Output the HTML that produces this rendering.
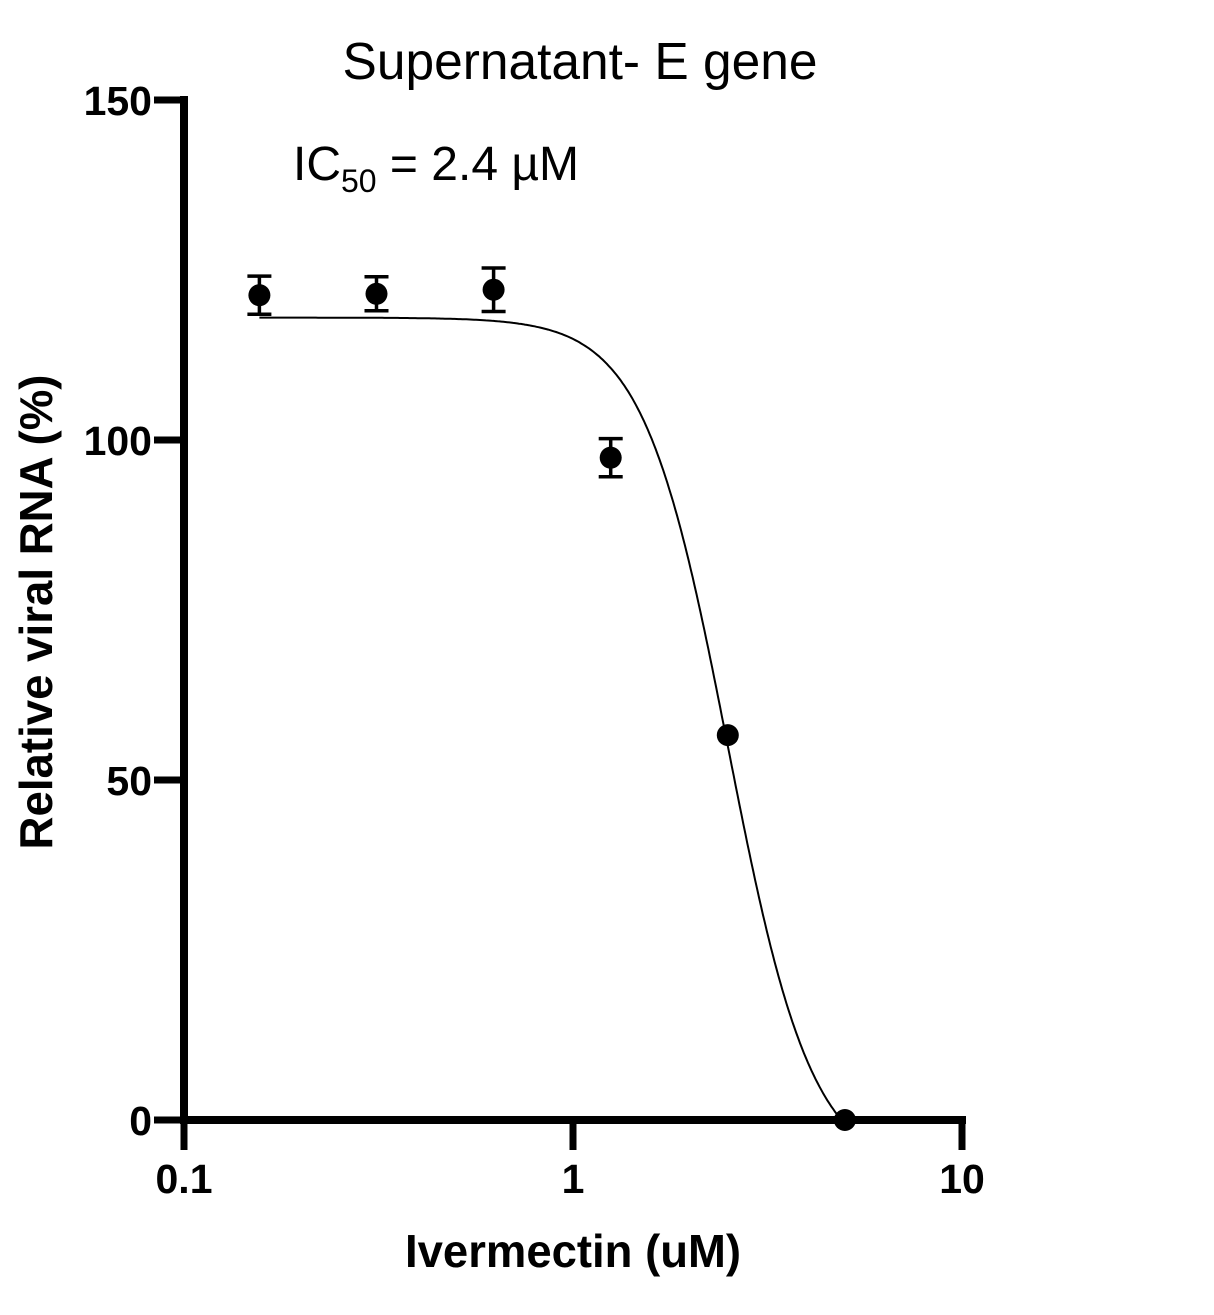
<!DOCTYPE html>
<html><head><meta charset="utf-8"><style>
html,body{margin:0;padding:0;background:#fff;width:1214px;height:1315px;overflow:hidden}
text{font-family:"Liberation Sans",sans-serif}
</style></head><body>
<svg id="chart" width="1214" height="1315" viewBox="0 0 1214 1315" xmlns="http://www.w3.org/2000/svg">
<text x="580" y="79" font-size="52" text-anchor="middle" textLength="475" lengthAdjust="spacingAndGlyphs">Supernatant- E gene</text>
<text x="293" y="180" font-size="48">IC<tspan font-size="32" dy="12">50</tspan><tspan dy="-12"> = 2.4 µM</tspan></text>
<g id="axes"></g>
<g id="marks"></g>
<text transform="translate(52,612) rotate(-90)" font-size="46" font-weight="bold" text-anchor="middle" textLength="475" lengthAdjust="spacingAndGlyphs">Relative viral RNA (%)</text>
<text x="573" y="1267" font-size="46" font-weight="bold" text-anchor="middle" textLength="336" lengthAdjust="spacingAndGlyphs">Ivermectin (uM)</text>
</svg>
<script>
const concentrations=[0.15625,0.3125,0.625,1.25,2.5,5];
const viralRNA=[121.3,121.5,122.1,97.4,56.6,0];
const errors=[2.8,2.5,3.2,2.8,0,0];
const yTicks=[0,50,100,150];
const xTicks=[0.1,1,10];
const xTickLabels=["0.1","1","10"];
const fitTop=118,fitBottom=-8,fitIC50=2.5,fitHill=4;

const NS="http://www.w3.org/2000/svg";
const X0=184,DEC=389,Y0=1120,PY=6.8;
const sx=v=>X0+(Math.log10(v)+1)*DEC;
const sy=v=>Y0-v*PY;
function mk(tag,attrs,parent){const e=document.createElementNS(NS,tag);for(const k in attrs)e.setAttribute(k,attrs[k]);parent.appendChild(e);return e;}
const axes=document.getElementById('axes'),marks=document.getElementById('marks');
let l=mk('line',{x1:X0,y1:sy(150)-4,x2:X0,y2:Y0+4,stroke:'#000','stroke-width':8},axes);


l=mk('line',{x1:X0-4,y1:Y0,x2:sx(10)+4,y2:Y0,stroke:'#000','stroke-width':8},axes);


yTicks.forEach(t=>{
 const tk=mk('line',{x1:X0-30,y1:sy(t),x2:X0,y2:sy(t),stroke:'#000','stroke-width':7},axes);
 
 
 const tx=mk('text',{x:X0-32,y:sy(t)+15,'font-size':41,'font-weight':'bold','text-anchor':'end'},axes);
 tx.textContent=t;
 
 
});
xTicks.forEach((t,i)=>{
 const tk=mk('line',{x1:sx(t),y1:Y0,x2:sx(t),y2:Y0+30,stroke:'#000','stroke-width':7},axes);
 
 
 const tx=mk('text',{x:sx(t),y:Y0+73,'font-size':41,'font-weight':'bold','text-anchor':'middle'},axes);
 tx.textContent=xTickLabels[i];
 
 
});
let d='';
const a=Math.log10(concentrations[0]),b=Math.log10(concentrations[concentrations.length-1]);
for(let i=0;i<=300;i++){const lx=a+(b-a)*i/300,x=Math.pow(10,lx);
 let y=fitBottom+(fitTop-fitBottom)/(1+Math.pow(x/fitIC50,fitHill));
 y=Math.max(y,0);
 d+=(i?'L':'M')+sx(x).toFixed(1)+','+sy(y).toFixed(1);}
const c=mk('path',{d:d,fill:'none',stroke:'#000','stroke-width':2},marks);


concentrations.forEach((cx,i)=>{
 const x=sx(cx),y=sy(viralRNA[i]),e=errors[i];
 if(e>0){
  const g=mk('path',{d:`M${x},${sy(viralRNA[i]+e)}V${sy(viralRNA[i]-e)}M${x-12},${sy(viralRNA[i]+e)}H${x+12}M${x-12},${sy(viralRNA[i]-e)}H${x+12}`,stroke:'#000','stroke-width':3.5,fill:'none'},marks);
  
  
 }
 const p=mk('circle',{cx:x,cy:y,r:11,fill:'#000'},marks);
 
 
});
</script>
</body></html>
